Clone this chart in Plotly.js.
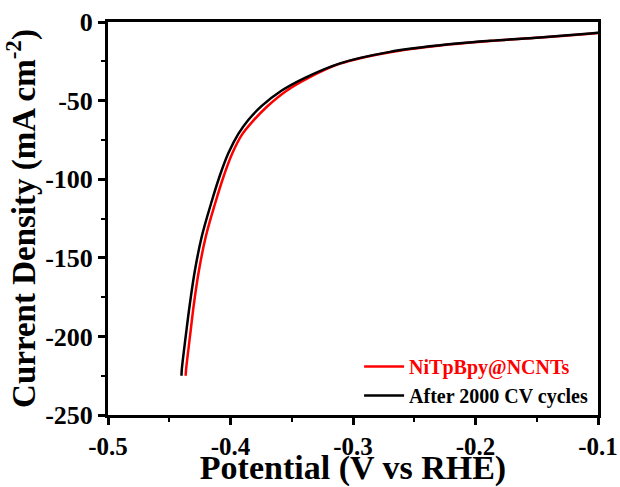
<!DOCTYPE html>
<html>
<head>
<meta charset="utf-8">
<script src="https://cdn.plot.ly/plotly-3.0.1.min.js"></script>
<style>html,body{margin:0;padding:0;background:#fff;}#chart{width:620px;height:487px;}</style>
</head>
<body>
<div id="chart"></div>
<script>
// Series: NiTpBpy@NCNTs (initial)
var potentialInitial = [-0.4366, -0.4363, -0.4331, -0.4298, -0.4257, -0.4202, -0.4125, -0.4053, -0.3985, -0.3905, -0.3812, -0.3703, -0.3548, -0.3375, -0.3106, -0.2698, -0.2290, -0.1882, -0.1473, -0.1065, -0.1000];
var currentInitial   = [-225.0, -221.4, -200.2, -178.9, -157.8, -136.6, -115.3, -97.5, -83.5, -71.5, -62.6, -53.9, -44.0, -36.0, -26.5, -19.2, -14.9, -12.1, -9.9, -7.4, -7.0];

// Series: After 2000 CV cycles
var potentialAfter = [-0.4400, -0.4398, -0.4366, -0.4331, -0.4290, -0.4235, -0.4158, -0.4086, -0.4018, -0.3936, -0.3855, -0.3745, -0.3582, -0.3392, -0.3106, -0.2698, -0.2290, -0.1882, -0.1473, -0.1065, -0.1000];
var currentAfter   = [-225.0, -221.4, -200.2, -178.9, -157.8, -136.6, -115.3, -97.5, -83.5, -71.2, -62.3, -53.4, -43.6, -35.5, -26.3, -19.0, -14.8, -12.0, -9.8, -7.3, -6.9];

var seriesNames = ['NiTpBpy@NCNTs', 'After 2000 CV cycles'];
var xTickVals = [-0.5, -0.4, -0.3, -0.2, -0.1];
var xTickText = ['-0.5', '-0.4', '-0.3', '-0.2', '-0.1'];
var yTickVals = [0, -50, -100, -150, -200, -250];
var yTickText = ['0', '-50', '-100', '-150', '-200', '-250'];

var fontFam = 'Liberation Serif';
function bold(arr) { return arr.map(function (s) { return '<b>' + s + '</b>'; }); }

var traces = [
  {
    x: potentialInitial, y: currentInitial, type: 'scatter', mode: 'lines',
    name: '<b><span style="color:#ff0000">' + seriesNames[0] + '</span></b>',
    line: {color: '#ff0000', width: 2.5, shape: 'spline', smoothing: 1.0}
  },
  {
    x: potentialAfter, y: currentAfter, type: 'scatter', mode: 'lines',
    name: '<b>' + seriesNames[1] + '</b>',
    line: {color: '#000000', width: 2.5, shape: 'spline', smoothing: 1.0}
  }
];

var layout = {
  width: 620, height: 487,
  margin: {l: 108, r: 22, t: 22, b: 72},
  paper_bgcolor: '#ffffff', plot_bgcolor: '#ffffff',
  font: {family: fontFam, color: '#000000', size: 24},
  showlegend: true,
  legend: {
    x: 0.99, xanchor: 'right', y: 0, yanchor: 'bottom',
    bgcolor: 'rgba(0,0,0,0)', borderwidth: 0,
    font: {family: fontFam, size: 20, color: '#000000'},
    tracegroupgap: 0, itemwidth: 40
  },
  xaxis: {
    range: [-0.5, -0.1], tickmode: 'array', tickvals: xTickVals, ticktext: bold(xTickText),
    ticks: 'outside', ticklen: 7, tickwidth: 3, tickcolor: '#000',
    showline: true, linewidth: 3, linecolor: '#000', mirror: true,
    showgrid: false, zeroline: false,
    tickfont: {family: fontFam, size: 25, color: '#000000', weight: 'bold'},
    minor: {dtick: 0.05, ticks: 'outside', ticklen: 4, tickwidth: 2, tickcolor: '#000', showgrid: false},
    title: {text: '<b>Potential (V vs RHE)</b>', font: {family: fontFam, size: 34, color: '#000'}},
    automargin: false
  },
  yaxis: {
    range: [-250, 0], tickmode: 'array', tickvals: yTickVals, ticktext: bold(yTickText),
    ticks: 'outside', ticklen: 7, tickwidth: 3, tickcolor: '#000',
    showline: true, linewidth: 3, linecolor: '#000', mirror: true,
    showgrid: false, zeroline: false,
    tickfont: {family: fontFam, size: 26, color: '#000000', weight: 'bold'},
    minor: {dtick: 25, ticks: 'outside', ticklen: 4, tickwidth: 2, tickcolor: '#000', showgrid: false},
    title: {text: '<b>Current Density (mA cm<sup>-2</sup>)</b>', font: {family: fontFam, size: 33, color: '#000'}},
    automargin: false
  }
};

Plotly.newPlot('chart', traces, layout, {displayModeBar: false, staticPlot: true});
</script>
</body>
</html>
